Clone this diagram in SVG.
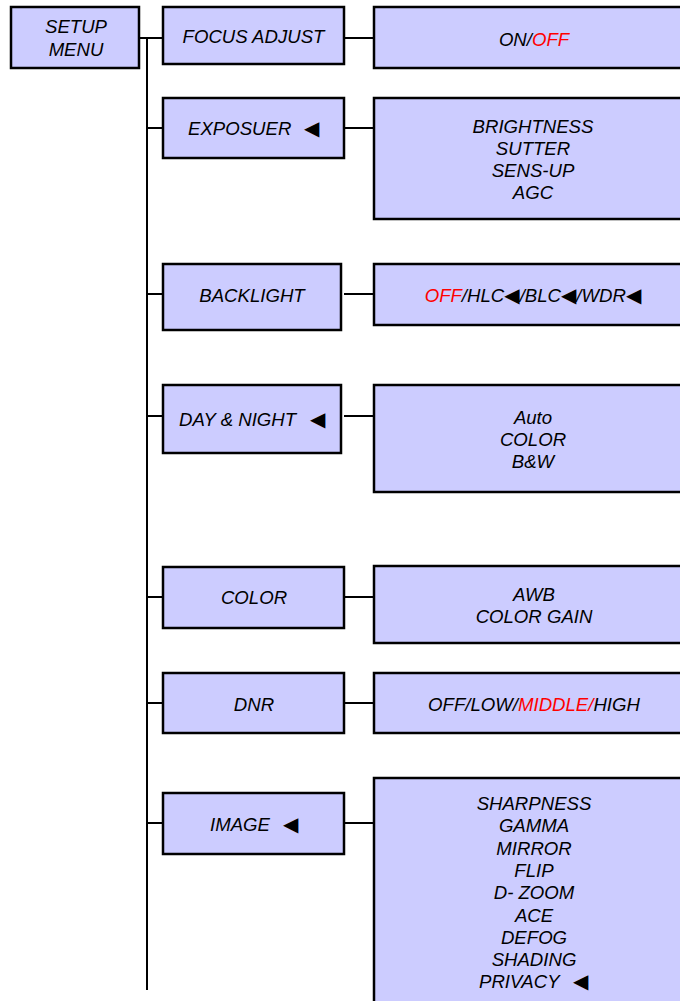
<svg xmlns="http://www.w3.org/2000/svg" width="680" height="1001" viewBox="0 0 680 1001">
<style>
.box{fill:#CCCCFF;stroke:#000;stroke-width:2.5}
.t{font-family:"Liberation Sans",Arial,sans-serif;font-style:italic;font-size:18.6px;fill:#000}
.m{text-anchor:middle}
.r{fill:#FF0000}
.a{font-family:"DejaVu Sans",sans-serif;font-style:normal;font-size:20px}
.ln{stroke:#000;stroke-width:2;fill:none}
</style>
<rect width="680" height="1001" fill="#fff"/>
<g id="connectors">
<line class="ln" x1="147" y1="38" x2="147" y2="990"/>
<line class="ln" x1="139" y1="38" x2="163" y2="38"/>
<line class="ln" x1="344" y1="38" x2="374" y2="38"/>
<line class="ln" x1="147" y1="128" x2="163" y2="128"/>
<line class="ln" x1="344" y1="128" x2="374" y2="128"/>
<line class="ln" x1="147" y1="294" x2="163" y2="294"/>
<line class="ln" x1="344" y1="294" x2="374" y2="294"/>
<line class="ln" x1="147" y1="416" x2="163" y2="416"/>
<line class="ln" x1="344" y1="416" x2="374" y2="416"/>
<line class="ln" x1="147" y1="597" x2="163" y2="597"/>
<line class="ln" x1="344" y1="597" x2="374" y2="597"/>
<line class="ln" x1="147" y1="703" x2="163" y2="703"/>
<line class="ln" x1="344" y1="703" x2="374" y2="703"/>
<line class="ln" x1="147" y1="823" x2="163" y2="823"/>
<line class="ln" x1="344" y1="823" x2="374" y2="823"/>
</g>
<g id="setup-menu">
<rect class="box" x="11" y="7" width="128" height="61"/>
<text class="t m" x="76" y="33">SETUP</text>
<text class="t m" x="76" y="56">MENU</text>
</g>
<g id="focus-adjust">
<rect class="box" x="163" y="7" width="181" height="57"/>
<text class="t m" x="253.5" y="43">FOCUS ADJUST</text>
</g>
<g id="focus-options">
<rect class="box" x="374" y="7" width="320" height="61"/>
<text class="t m" x="534" y="46">ON/<tspan class="r">OFF</tspan></text>
</g>
<g id="exposure">
<rect class="box" x="163" y="98" width="181" height="60"/>
<text class="t" x="188" y="135">EXPOSUER<tspan class="a" x="304">◀</tspan></text>
</g>
<g id="exposure-options">
<rect class="box" x="374" y="98" width="320" height="121"/>
<text class="t m" x="533" y="133">BRIGHTNESS</text>
<text class="t m" x="533" y="155">SUTTER</text>
<text class="t m" x="533" y="177">SENS-UP</text>
<text class="t m" x="533" y="199">AGC</text>
</g>
<g id="backlight">
<rect class="box" x="163" y="264" width="178" height="66"/>
<text class="t m" x="252" y="302">BACKLIGHT</text>
</g>
<g id="backlight-options">
<rect class="box" x="374" y="264" width="320" height="61"/>
<text class="t m" x="533" y="302"><tspan class="r">OFF</tspan>/HLC<tspan class="a">◀</tspan>/BLC<tspan class="a">◀</tspan>/WDR<tspan class="a">◀</tspan></text>
</g>
<g id="day-night">
<rect class="box" x="163" y="385" width="178" height="68"/>
<text class="t" x="179" y="426">DAY &amp; NIGHT<tspan class="a" x="310">◀</tspan></text>
</g>
<g id="day-night-options">
<rect class="box" x="374" y="385" width="320" height="107"/>
<text class="t m" x="533" y="424">Auto</text>
<text class="t m" x="533" y="446">COLOR</text>
<text class="t m" x="533" y="468">B&amp;W</text>
</g>
<g id="color">
<rect class="box" x="163" y="567" width="181" height="61"/>
<text class="t m" x="254" y="604">COLOR</text>
</g>
<g id="color-options">
<rect class="box" x="374" y="566" width="320" height="77"/>
<text class="t m" x="534" y="601">AWB</text>
<text class="t m" x="534" y="623">COLOR GAIN</text>
</g>
<g id="dnr">
<rect class="box" x="163" y="673" width="181" height="60"/>
<text class="t m" x="254" y="711">DNR</text>
</g>
<g id="dnr-options">
<rect class="box" x="374" y="673" width="320" height="60"/>
<text class="t m" x="534" y="711">OFF/LOW/<tspan class="r">MIDDLE/</tspan>HIGH</text>
</g>
<g id="image">
<rect class="box" x="163" y="793" width="181" height="61"/>
<text class="t" x="210" y="831">IMAGE<tspan class="a" x="283">◀</tspan></text>
</g>
<g id="image-options">
<rect class="box" x="374" y="778" width="320" height="240"/>
<text class="t m" x="534" y="810">SHARPNESS</text>
<text class="t m" x="534" y="832">GAMMA</text>
<text class="t m" x="534" y="855">MIRROR</text>
<text class="t m" x="534" y="877">FLIP</text>
<text class="t m" x="534" y="899">D- ZOOM</text>
<text class="t m" x="534" y="922">ACE</text>
<text class="t m" x="534" y="944">DEFOG</text>
<text class="t m" x="534" y="966">SHADING</text>
<text class="t" x="479" y="988">PRIVACY<tspan class="a" x="573">◀</tspan></text>
</g>
</svg>
